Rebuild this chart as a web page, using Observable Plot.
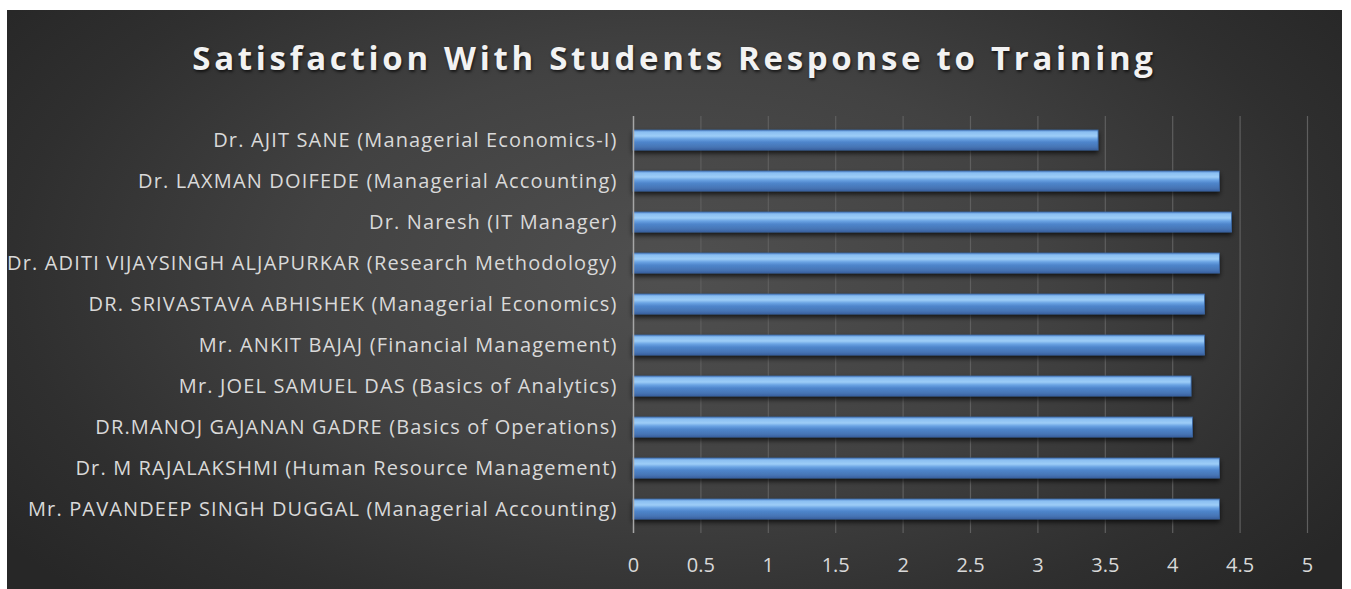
<!DOCTYPE html>
<html>
<head>
<meta charset="utf-8">
<script src="https://cdn.jsdelivr.net/npm/d3@7"></script>
<script src="https://cdn.jsdelivr.net/npm/@observablehq/plot@0.6"></script>
<style>
  html, body { margin: 0; padding: 0; background: #ffffff; }
  #page { position: relative; width: 1351px; height: 589px; overflow: hidden; background: #ffffff; }
  #panel {
    position: absolute; left: 7px; top: 10px; width: 1335px; height: 579px;
    background: radial-gradient(ellipse 62% 80% at 50% 45%, #505050 0%, #424242 45%, #2f2f2f 80%, #272727 100%);
  }
  #title {
    position: absolute; left: 0; top: 26px; width: 1335px; text-align: center;
    font-family: "Open Sans", sans-serif; font-weight: 700; font-size: 33px; line-height: 44px;
    letter-spacing: 3.7px; color: #f2f2f2;
    text-shadow: 1px 2px 3px rgba(0,0,0,0.65);
  }
  #chart { position: absolute; left: 0; top: 85px; }
</style>
</head>
<body>
<div id="page">
  <div id="panel">
    <div id="title">Satisfaction With Students Response to Training</div>
    <div id="chart"></div>
  </div>
</div>
<script>
const teachers = [
  "Dr. AJIT SANE (Managerial Economics-I)",
  "Dr. LAXMAN DOIFEDE (Managerial Accounting)",
  "Dr. Naresh (IT Manager)",
  "Dr. ADITI VIJAYSINGH ALJAPURKAR (Research Methodology)",
  "DR. SRIVASTAVA ABHISHEK (Managerial Economics)",
  "Mr. ANKIT BAJAJ (Financial Management)",
  "Mr. JOEL SAMUEL DAS (Basics of Analytics)",
  "DR.MANOJ GAJANAN GADRE (Basics of Operations)",
  "Dr. M RAJALAKSHMI (Human Resource Management)",
  "Mr. PAVANDEEP SINGH DUGGAL (Managerial Accounting)"
];
const scores = [3.45, 4.35, 4.44, 4.35, 4.24, 4.24, 4.14, 4.15, 4.35, 4.35];
const xTicks = [0, 0.5, 1, 1.5, 2, 2.5, 3, 3.5, 4, 4.5, 5];

const data = teachers.map((name, i) => ({name, score: scores[i]}));

const svg = Plot.plot({
  width: 1335,
  height: 494,
  marginLeft: 626,
  marginRight: 35,
  marginTop: 21,
  marginBottom: 56,
  style: {background: "transparent", color: "#d9d9d9", fontFamily: "'Open Sans', sans-serif", fontSize: "20px"},
  x: {domain: [0, 5]},
  y: {domain: teachers, paddingInner: 0.52, paddingOuter: 0.235},
  marks: [
    Plot.gridX(xTicks.filter(d => d > 0), {stroke: "#5f5f5f", strokeOpacity: 1, strokeWidth: 1.2}),
    Plot.barX(data, {x: "score", y: "name", fill: "url(#barGrad)", stroke: "#3a65a0", strokeWidth: 0.8}),
    Plot.ruleX([0], {stroke: "#a6a6a6", strokeWidth: 1.5}),
    Plot.axisX({ticks: xTicks, tickSize: 0, tickPadding: 24, tickFormat: d => String(d), label: null, fill: "#d9d9d9"}),
    Plot.axisY({tickSize: 0, tickPadding: 16, label: null, fill: "#d9d9d9"})
  ]
});

const s = d3.select(svg);
const defs = s.insert("defs", ":first-child");
const g = defs.append("linearGradient").attr("id", "barGrad")
  .attr("x1", 0).attr("y1", 0).attr("x2", 0).attr("y2", 1);
[
  [0, "#5d93d6"], [0.12, "#8cc0f2"], [0.3, "#9dcdf7"], [0.45, "#6aa3e3"],
  [0.6, "#4f86cc"], [0.85, "#4675b5"], [1, "#3a62a0"]
].forEach(([o, c]) => g.append("stop").attr("offset", o).attr("stop-color", c));
const f = defs.append("filter").attr("id", "shadow").attr("x", "-5%").attr("y", "-50%").attr("width", "110%").attr("height", "220%");
f.append("feDropShadow").attr("dx", 0).attr("dy", 3).attr("stdDeviation", 2.5).attr("flood-color", "#000").attr("flood-opacity", 0.7);
s.selectAll("g[aria-label='bar']").attr("filter", "url(#shadow)");
s.selectAll("g[aria-label='y-axis tick label'] text").style("letter-spacing", "1.15px");

document.getElementById("chart").appendChild(svg);
</script>
</body>
</html>
